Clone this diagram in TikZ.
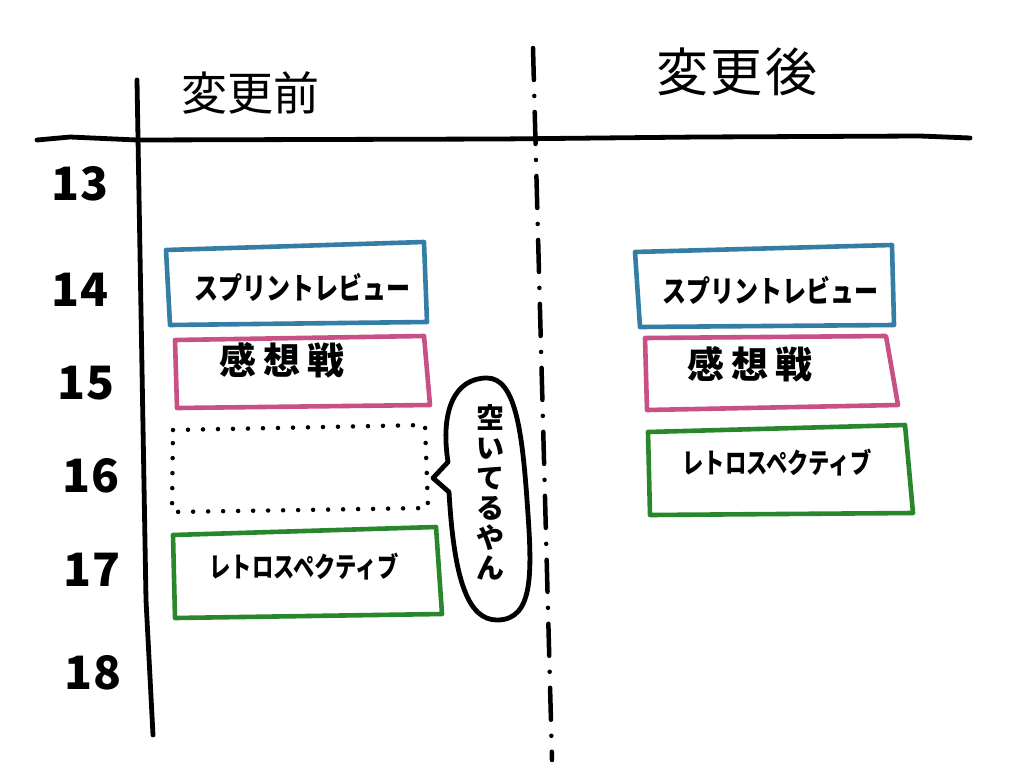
\documentclass[tikz,border=0pt]{standalone}
\usepackage{fontspec}
\newfontfamily\jp{Noto Sans CJK JP}
\definecolor{cblue}{RGB}{52,125,165}
\definecolor{cpink}{RGB}{200,80,135}
\definecolor{cgreen}{RGB}{40,135,45}
\newcommand{\narrowA}[1]{\scalebox{0.8}[1]{#1}}
\newcommand{\narrowB}[1]{\scalebox{0.76}[1]{#1}}
\begin{document}
\begin{tikzpicture}[x=1pt,y=-1pt,
  ink/.style={line width=4.8pt,line cap=round,line join=round},
  boxline/.style={line width=4.6pt,line cap=round,line join=round},
  hour/.style={font=\jp\bfseries\fontsize{46}{46}\selectfont,inner sep=0pt},
  head/.style={font=\jp\fontsize{46}{46}\selectfont,inner sep=0pt},
  label/.style={font=\jp\bfseries\fontsize{30}{30}\selectfont,inner sep=0pt},
  labelb/.style={font=\jp\bfseries\fontsize{37}{37}\selectfont\addfontfeature{LetterSpace=18},inner sep=0pt},
  labelc/.style={font=\jp\bfseries\fontsize{28}{28}\selectfont,inner sep=0pt}]
\fill[white] (0,0) rectangle (1024,768);
\useasboundingbox (0,0) rectangle (1024,768);

% axes
\draw[ink] (37,140) -- (70,137) -- (137,140) -- (500,139) -- (700,137) -- (920,136) -- (970,138);
\draw[ink] (137,80) -- (146,600) -- (153,735);
\draw[line width=4.5pt,line cap=round,dash pattern=on 32pt off 16pt on 0pt off 16pt] (533,48) -- (552,760);

% headers
\node[head] (hbefore) at (250,93) {変更前};
\node[head,font=\jp\fontsize{52}{52}\selectfont\addfontfeature{LetterSpace=5}] (hafter) at (737,72) {変更後};

% hours
\node[hour] (h13) at (80,184) {13};
\node[hour] (h14) at (80,290) {14};
\node[hour] (h15) at (86,383) {15};
\node[hour] (h16) at (91,476) {16};
\node[hour] (h17) at (92,570) {17};
\node[hour] (h18) at (93,673) {18};

% left column
\draw[boxline,cblue] (166,250) -- (424,242) -- (427,322) -- (170,325) -- cycle;
\node[label] (lsr) at (302,287) {\narrowA{スプリントレビュー}};
\draw[boxline,cpink] (175,340) -- (424,336) -- (430,405) -- (177,408) -- cycle;
\node[labelb] (lkr) at (282,360) {感想戦};
\draw[line width=4.5pt,line cap=round,dash pattern=on 0pt off 15pt] (173,430) -- (425,425) -- (428,508) -- (172,512) -- cycle;
\draw[boxline,cgreen] (173,535) -- (436,527) -- (442,614) -- (175,618) -- cycle;
\node[labelc] (lre) at (304,567) {\narrowB{レトロスペクティブ}};

% speech bubble
\draw[ink] (448,462) .. controls (440,410) and (455,378) .. (487,378)
  .. controls (515,378) and (522,430) .. (527,500)
  .. controls (532,570) and (535,620) .. (497,620)
  .. controls (468,620) and (454,580) .. (449,492) -- (433,478) -- cycle;
\node[font=\jp\bfseries\fontsize{28}{30}\selectfont,align=center,inner sep=0pt] (bub) at (490,492) {空\\い\\て\\る\\や\\ん};

% right column
\draw[boxline,cblue] (635,252) -- (892,245) -- (894,325) -- (640,327) -- cycle;
\node[label] (rsr) at (770,290) {\narrowA{スプリントレビュー}};
\draw[boxline,cpink] (645,338) -- (886,336) -- (898,405) -- (647,410) -- cycle;
\node[labelb] (rkr) at (750,364) {感想戦};
\draw[boxline,cgreen] (648,432) -- (905,425) -- (913,513) -- (650,515) -- cycle;
\node[labelc] (rre) at (777,463) {\narrowB{レトロスペクティブ}};
\end{tikzpicture}
\end{document}
